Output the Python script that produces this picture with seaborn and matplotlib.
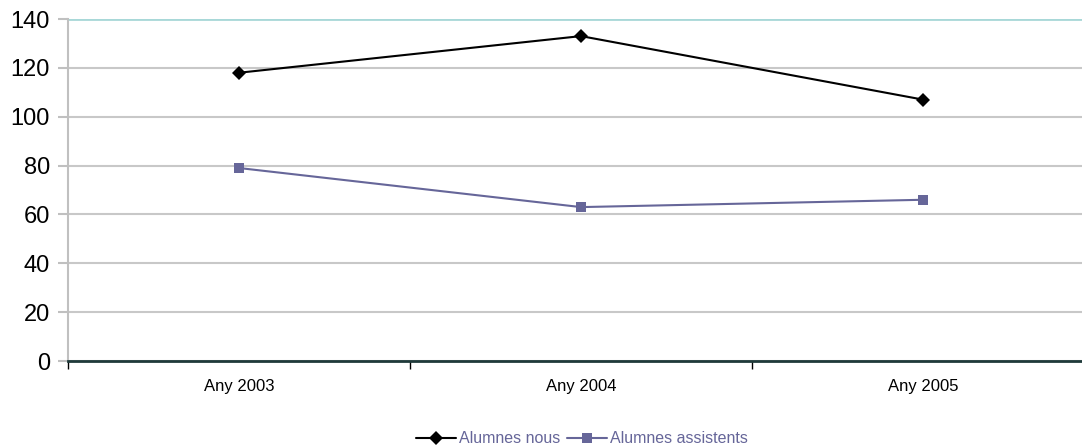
import matplotlib.pyplot as plt
import numpy as np
import pandas as pd
import seaborn as sns

years = ["Any 2003", "Any 2004", "Any 2005"]
nous = [118, 133, 107]
assistents = [79, 63, 66]
series_names = ["Alumnes nous", "Alumnes assistents"]

df = pd.DataFrame({
    "any": years * 2,
    "valor": nous + assistents,
    "serie": [series_names[0]] * 3 + [series_names[1]] * 3,
})

sns.set_style("white")
plt.rcParams["font.family"] = ["Liberation Sans", "DejaVu Sans"]

fig = plt.figure(figsize=(10.82, 4.45), dpi=100)
ax = fig.add_axes([68 / 1082, 1 - 361 / 445, 1026 / 1082, 342 / 445])

pal = {series_names[0]: "#000000", series_names[1]: "#666699"}
sns.lineplot(data=df, x="any", y="valor", hue="serie", style="serie",
             markers={series_names[0]: "D", series_names[1]: "s"},
             dashes=False, palette=pal, markersize=7, linewidth=1.5,
             markeredgewidth=0, ax=ax, sort=False)
# diamonds a bit bigger than squares, as in the original
for ln in ax.lines:
    if ln.get_marker() == "D":
        ln.set_markersize(7.5)
    elif ln.get_marker() == "s":
        ln.set_markersize(6.5)

ax.set_xlim(-0.5, 2.5)
ax.set_ylim(0, 140)
ax.set_yticks(np.arange(0, 141, 20))
ax.grid(axis="y", color="#c8c8c8", linewidth=1.5)
ax.set_axisbelow(True)
ax.axhline(140, color="#a8d8d8", linewidth=2, zorder=1)

for s in ["top", "right"]:
    ax.spines[s].set_visible(False)
ax.spines["left"].set_color("#c0c0c0")
ax.spines["left"].set_linewidth(1.5)
ax.spines["bottom"].set_color("#1f3a3a")
ax.spines["bottom"].set_linewidth(2)

ax.tick_params(axis="y", which="major", length=7, width=1.5, color="#c0c0c0",
               labelsize=17, labelcolor="black", pad=6, left=True)
ax.set_xticks([0, 1, 2])
ax.set_xticklabels(years, fontsize=12, color="black")
ax.tick_params(axis="x", which="major", length=0, pad=13)
ax.set_xticks([-0.5, 0.5, 1.5], minor=True)
ax.tick_params(axis="x", which="minor", length=6, width=1, color="#000000", bottom=True)
ax.set_xlabel("")
ax.set_ylabel("")

handles, labels = ax.get_legend_handles_labels()
ax.legend_.remove()
leg = fig.legend(handles, labels, loc="lower center", bbox_to_anchor=(0.538, -0.035),
                 ncol=2, frameon=False, fontsize=11.5, handlelength=2.5,
                 handletextpad=0.2, columnspacing=0.4)
for t in leg.get_texts():
    t.set_color("#666699")

fig.savefig("out.png", dpi=100)
